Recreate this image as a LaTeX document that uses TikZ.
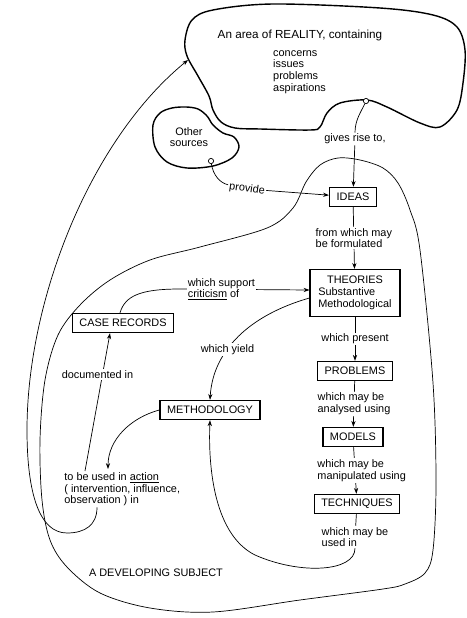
\documentclass[tikz,border=0pt]{standalone}
\usepackage{fontspec}
\setmainfont{Liberation Sans}
\usetikzlibrary{arrows.meta}

\begin{document}
\begin{tikzpicture}
    [x=0.03cm, y=-0.03cm, >={Stealth[length=5pt,width=3.6pt]}, font=\fontsize{9.3}{10}\selectfont,
     box/.style={draw, line width=1.2pt, inner xsep=6pt, inner ysep=2pt, minimum height=0.57cm},
     lbl/.style={fill=white, inner sep=1pt, align=left},
     blob/.style={line width=1.2pt},
     link/.style={line width=0.6pt},
     pin/.style={circle, draw, line width=0.6pt, fill=white, inner sep=0pt, minimum size=4.5pt}]
    \useasboundingbox (0,0) rectangle (466,618);
    \draw[link] plot[smooth cycle, tension=0.55] coordinates {(45,380) (58,335) (80,305) (110,280) (150,260) (200,247) (267,228) (293,208) (306,182) (320,165) (338,158) (360,160) (383,168) (398,183) (410,210) (420,250) (433,383) (436,483) (433,550) (425,573) (405,584) (383,589) (300,600) (213,612) (150,608) (100,593) (67,567) (50,540) (42,500) (40,440)};
    \draw[blob] plot[smooth cycle, tension=0.55] coordinates {(185,40) (192,20) (213,10) (273,4) (380,8) (433,15) (457,27) (465,50) (463,83) (457,110) (440,127) (420,123) (387,107) (367,100) (340,103) (327,113) (320,127) (310,130) (260,129) (235,128) (221,122) (213,110) (209,96) (198,76) (187,56)};
    \draw[blob] plot[smooth cycle, tension=0.55] coordinates {(153,125) (160,113) (172,108) (186,107) (198,109) (207,116) (213,125) (223,133) (234,137) (239,147) (232,158) (213,166) (187,168) (167,162) (155,147)};
    \node (reality) at (300,35) {\fontsize{10}{11}\selectfont An area of REALITY, containing};
    \node[align=left, anchor=north west, inner sep=0pt] (aims) at (273,50) {concerns\\issues\\problems\\aspirations};
    \node[pin] (rsrc) at (366,101) {};
    \node[align=center] (other) at (189,137) {Other\\sources};
    \node[pin] (osrc) at (211,161) {};
    \node[box] (ideas) at (353,197) {IDEAS};
    \node[box, inner xsep=7pt, inner ysep=5pt] (theo) at (355,293) {\begin{tabular}{@{}l@{}}\multicolumn{1}{@{}c@{}}{THEORIES}\\Substantive\\Methodological\end{tabular}};
    \node[box] (prob) at (355,371) {PROBLEMS};
    \node[box] (models) at (353,437) {MODELS};
    \node[box] (tech) at (357,504) {TECHNIQUES};
    \node[box] (meth) at (210,410) {METHODOLOGY};
    \node[box] (cases) at (123,323) {CASE RECORDS};
    \node[align=left, anchor=north west, inner sep=1pt] (action) at (63,471) {to be used in \underline{action}\\( intervention, influence,\\observation ) in};
    \node (subject) at (156,573) {A DEVELOPING SUBJECT};
    \node[lbl] (grt) at (355,139) {gives rise to,};
    \node[lbl, rotate=-8] (prov) at (247,189) {provide};
    \node[lbl] (wmbu) at (355,537) {which may be\\used in};
    \coordinate (rtip) at (188,60);
    \draw[link] (rsrc) .. controls (361,112) and (355,120) .. (grt);
    \draw[link, ->] (grt) -- (ideas);
    \draw[link] (osrc) .. controls (213,175) and (220,183) .. (prov);
    \draw[link, ->] (prov) -- (ideas);
    \draw[link, ->] (ideas) -- node[lbl]{from which may\\be formulated} (theo);
    \draw[link, ->] (theo) -- node[lbl]{which present} (prob);
    \draw[link, ->] (prob) -- node[lbl]{which may be\\analysed using} (models);
    \draw[link, ->] (models) -- node[lbl, xshift=0.2cm]{which may be\\manipulated using} (tech);
    \draw[link] (tech) -- (wmbu);
    \draw[link, ->] (wmbu.south) .. controls (355,572) and (300,575) .. (255,555) .. controls (215,535) and (208,470) .. (meth.south);
    \draw[link, ->] ([yshift=-0.15cm]theo.west) .. controls (250,315) and (213,350) .. node[lbl, pos=0.62]{which yield} (meth.north);
    \draw[link, ->] ([xshift=-0.09cm]cases.north) .. controls (125,296) and (140,289) .. (180,289) -- node[lbl, pos=0.32]{which support\\\underline{criticism} of} ([yshift=0.09cm]theo.west);
    \draw[link, ->] (meth.west) .. controls (130,418) and (108,440) .. ([xshift=1.35cm, yshift=0.06cm]action.north west);
    \draw[link, ->] ([xshift=0.66cm]action.north west) -- node[lbl, pos=0.7, xshift=-0.15cm]{documented in} ([xshift=-0.39cm]cases.south);
    \draw[link, ->] ([xshift=1.02cm]action.south west) .. controls (97,525) and (85,533) .. (67,533) .. controls (40,533) and (27,495) .. (27,430) .. controls (27,300) and (90,140) .. (rtip);
\end{tikzpicture}
\end{document}
